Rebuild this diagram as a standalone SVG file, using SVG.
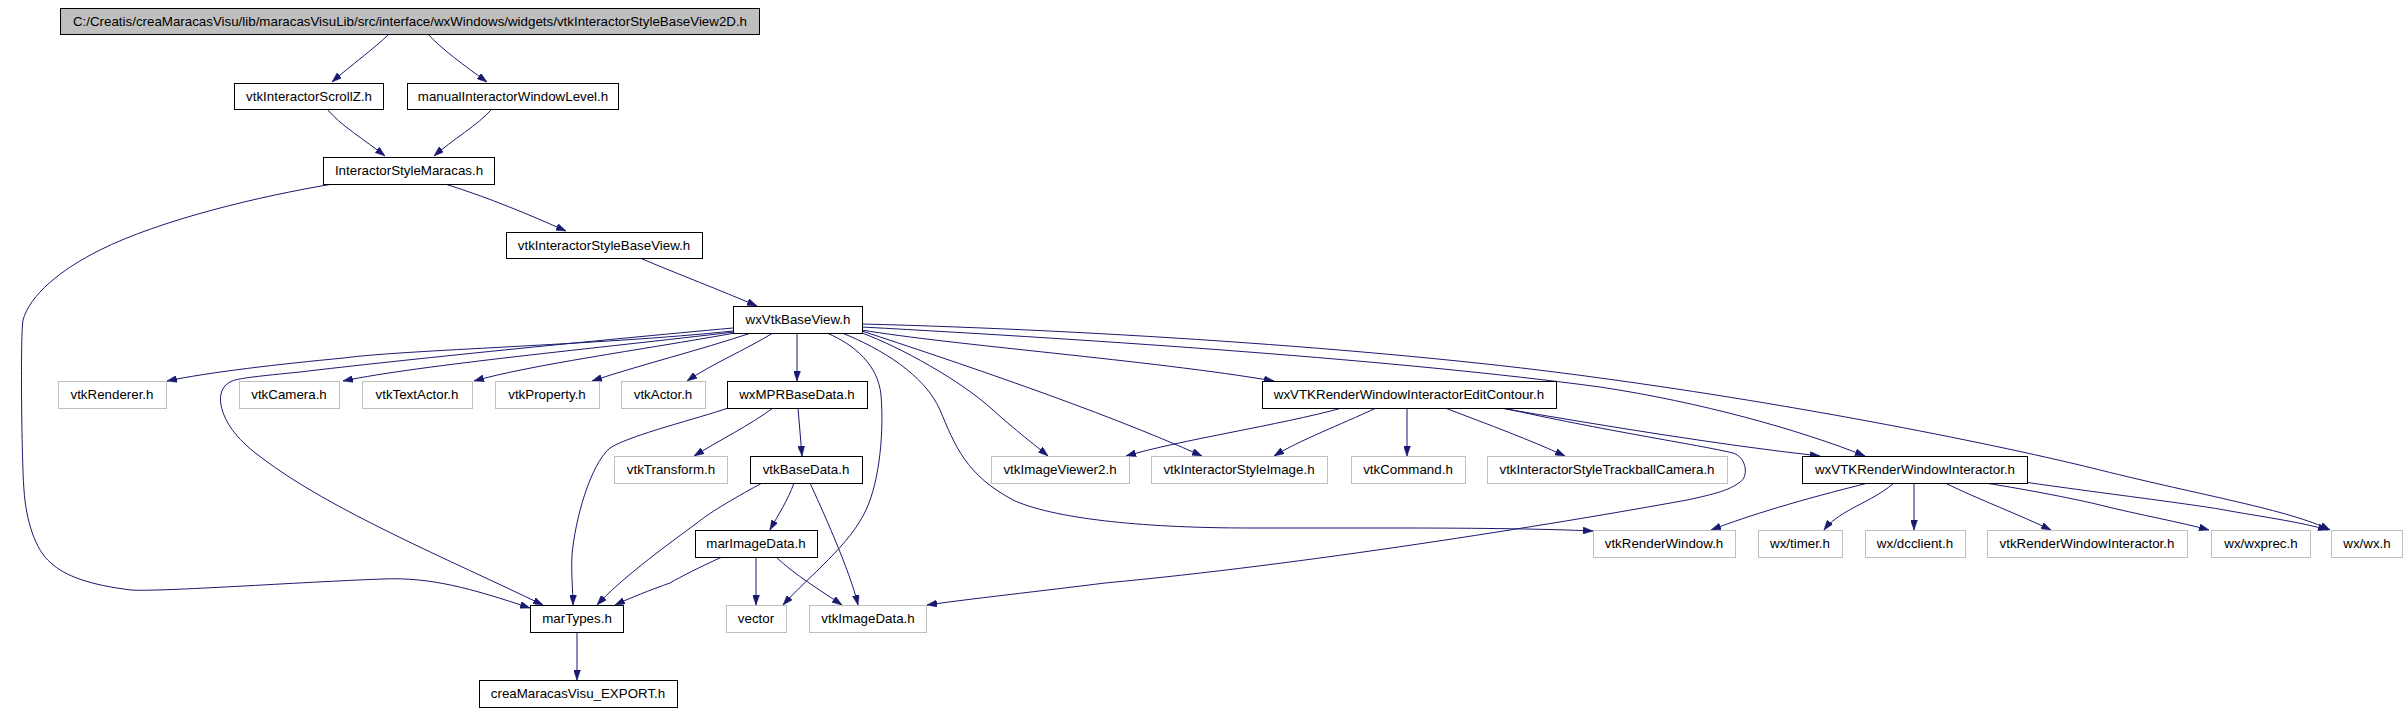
<svg xmlns="http://www.w3.org/2000/svg" width="2408" height="714" viewBox="0 0 2408 714">
<style>
.bg{fill:#ffffff}
.n rect{fill:#ffffff;stroke:#000000;stroke-width:1}
.n.gr rect{stroke:#bfbfbf}
.n.root rect{fill:#bfbfbf}
.n text{font-family:"Liberation Sans",Arial,sans-serif;font-size:13.33px;fill:#000000;text-anchor:middle}
#edges path{fill:none;stroke:#191970;stroke-width:1;marker-end:url(#ah)}
</style>
<defs>
<marker id="ah" viewBox="0 0 10 7" refX="10" refY="3.5" markerWidth="10" markerHeight="7" markerUnits="userSpaceOnUse" orient="auto">
<path d="M0,0 L10,3.5 L0,7 z" fill="#191970" stroke="#191970" stroke-width="0.5"/>
</marker>
</defs>
<rect class="bg" x="0" y="0" width="2408" height="714"/>
<g id="edges">
<path d="M389,34 C375,48 350,66 332,82"/>
<path d="M428,34 C440,48 465,66 487,82"/>
<path d="M327,109 C340,125 365,140 385,156"/>
<path d="M492,109 C478,125 452,140 434,156"/>
<path d="M445,184 C490,198 530,215 566,231"/>
<path d="M333,184 C260,196 160,220 100,250 C60,270 30,295 23,320 C20,340 22,470 24,490 C26,520 35,550 51,563 C65,576 90,585 131,590 C160,592 300,582 383,579 C430,577 470,588 530,608"/>
<path d="M640,258 C680,275 720,290 757,306"/>
<path d="M733,331 C600,345 400,350 344,358 C280,364 210,372 167,381"/>
<path d="M734,332 C600,348 420,365 343,381"/>
<path d="M735,333 C640,350 530,365 474,381"/>
<path d="M751,333 C700,350 640,365 592,381"/>
<path d="M773,333 C745,350 710,365 687,381"/>
<path d="M797,333 L797,381"/>
<path d="M733,328 C600,340 400,360 300,372 C260,376 240,378 232,381 C222,385 219,395 221,405 C225,425 240,442 262,458 C330,510 450,560 543,605"/>
<path d="M827,333 C855,345 878,365 881,395 C884,430 880,480 866,510 C850,545 810,575 783,605"/>
<path d="M862,333 C900,347 960,380 993,410 C1015,430 1035,445 1048,456"/>
<path d="M862,331 C950,360 1100,410 1202,456"/>
<path d="M842,333 C880,348 925,375 940,410 C955,445 965,475 1015,501 C1060,520 1150,528 1250,528 L1400,528 C1480,528 1550,529 1593,531"/>
<path d="M862,330 C950,345 1150,360 1274,381"/>
<path d="M862,327 C1100,340 1400,360 1600,387 C1700,402 1800,430 1865,456"/>
<path d="M862,324 C1100,330 1400,350 1600,378 C1800,405 2000,445 2100,470 C2200,495 2290,510 2330,530"/>
<path d="M773,408 C750,425 720,440 694,456"/>
<path d="M798,408 L802,456"/>
<path d="M728,408 C700,418 630,435 610,448 C590,465 575,520 572,555 C571,575 573,590 573,605"/>
<path d="M794,483 C788,500 778,515 770,530"/>
<path d="M762,483 C740,495 710,512 697,523 C660,550 620,580 597,605"/>
<path d="M810,483 C820,505 850,570 858,605"/>
<path d="M722,557 C700,567 680,577 670,583 C650,590 630,598 615,605"/>
<path d="M756,557 L756,605"/>
<path d="M776,557 C795,575 820,590 842,605"/>
<path d="M577,632 L577,680"/>
<path d="M1342,408 C1280,425 1180,440 1126,456"/>
<path d="M1376,408 C1340,425 1300,440 1274,456"/>
<path d="M1407,408 L1407,456"/>
<path d="M1445,408 C1490,425 1530,440 1565,456"/>
<path d="M1500,408 C1600,425 1720,445 1820,456"/>
<path d="M1503,408 C1600,430 1700,445 1733,453 C1748,458 1748,478 1740,482 C1730,490 1715,494 1687,500 C1550,525 1300,565 1105,583 C1050,590 960,600 927,605"/>
<path d="M1868,483 C1800,500 1750,515 1711,530"/>
<path d="M1894,483 C1880,495 1862,503 1853,508 C1840,515 1830,522 1824,530"/>
<path d="M1914,483 L1914,530"/>
<path d="M1945,483 C1980,500 2020,515 2051,530"/>
<path d="M1985,483 C2030,490 2080,500 2100,505 C2140,515 2180,522 2209,530"/>
<path d="M2024,482 C2100,493 2200,505 2230,511 C2270,518 2300,522 2328,530"/>
</g>
<g id="n0" class="n root"><rect x="60.5" y="8.5" width="699" height="26"/><text x="410" y="26">C:/Creatis/creaMaracasVisu/lib/maracasVisuLib/src/interface/wxWindows/widgets/vtkInteractorStyleBaseView2D.h</text></g>
<g id="n1" class="n"><rect x="234.5" y="83.5" width="149" height="26"/><text x="309" y="101">vtkInteractorScrollZ.h</text></g>
<g id="n2" class="n"><rect x="407.5" y="83.5" width="211" height="26"/><text x="513" y="101">manualInteractorWindowLevel.h</text></g>
<g id="n3" class="n"><rect x="323.5" y="157.5" width="171" height="27"/><text x="409" y="175">InteractorStyleMaracas.h</text></g>
<g id="n4" class="n"><rect x="506.5" y="232.5" width="196" height="26"/><text x="604" y="250">vtkInteractorStyleBaseView.h</text></g>
<g id="n5" class="n"><rect x="733.5" y="306.5" width="129" height="27"/><text x="798" y="324">wxVtkBaseView.h</text></g>
<g id="n6" class="n gr"><rect x="58.5" y="381.5" width="108" height="27"/><text x="112" y="399">vtkRenderer.h</text></g>
<g id="n7" class="n gr"><rect x="239.5" y="381.5" width="100" height="27"/><text x="289" y="399">vtkCamera.h</text></g>
<g id="n8" class="n gr"><rect x="362.5" y="381.5" width="110" height="27"/><text x="417" y="399">vtkTextActor.h</text></g>
<g id="n9" class="n gr"><rect x="495.5" y="381.5" width="104" height="27"/><text x="547" y="399">vtkProperty.h</text></g>
<g id="n10" class="n gr"><rect x="621.5" y="381.5" width="84" height="27"/><text x="663" y="399">vtkActor.h</text></g>
<g id="n11" class="n"><rect x="727.5" y="381.5" width="140" height="27"/><text x="797" y="399">wxMPRBaseData.h</text></g>
<g id="n12" class="n"><rect x="1262.5" y="381.5" width="294" height="27"/><text x="1409" y="399">wxVTKRenderWindowInteractorEditContour.h</text></g>
<g id="n13" class="n gr"><rect x="614.5" y="456.5" width="113" height="27"/><text x="671" y="474">vtkTransform.h</text></g>
<g id="n14" class="n"><rect x="750.5" y="456.5" width="112" height="27"/><text x="806" y="474">vtkBaseData.h</text></g>
<g id="n15" class="n gr"><rect x="991.5" y="456.5" width="138" height="27"/><text x="1060" y="474">vtkImageViewer2.h</text></g>
<g id="n16" class="n gr"><rect x="1151.5" y="456.5" width="176" height="27"/><text x="1239" y="474">vtkInteractorStyleImage.h</text></g>
<g id="n17" class="n gr"><rect x="1351.5" y="456.5" width="114" height="27"/><text x="1408" y="474">vtkCommand.h</text></g>
<g id="n18" class="n gr"><rect x="1487.5" y="456.5" width="240" height="27"/><text x="1607" y="474">vtkInteractorStyleTrackballCamera.h</text></g>
<g id="n19" class="n"><rect x="1802.5" y="456.5" width="225" height="27"/><text x="1915" y="474">wxVTKRenderWindowInteractor.h</text></g>
<g id="n20" class="n"><rect x="695.5" y="530.5" width="122" height="27"/><text x="756" y="548">marImageData.h</text></g>
<g id="n21" class="n gr"><rect x="1593.5" y="530.5" width="142" height="27"/><text x="1664" y="548">vtkRenderWindow.h</text></g>
<g id="n22" class="n gr"><rect x="1758.5" y="530.5" width="84" height="27"/><text x="1800" y="548">wx/timer.h</text></g>
<g id="n23" class="n gr"><rect x="1865.5" y="530.5" width="100" height="27"/><text x="1915" y="548">wx/dcclient.h</text></g>
<g id="n24" class="n gr"><rect x="1987.5" y="530.5" width="200" height="27"/><text x="2087" y="548">vtkRenderWindowInteractor.h</text></g>
<g id="n25" class="n gr"><rect x="2211.5" y="530.5" width="99" height="27"/><text x="2261" y="548">wx/wxprec.h</text></g>
<g id="n26" class="n gr"><rect x="2331.5" y="530.5" width="71" height="27"/><text x="2367" y="548">wx/wx.h</text></g>
<g id="n27" class="n"><rect x="530.5" y="605.5" width="93" height="27"/><text x="577" y="623">marTypes.h</text></g>
<g id="n28" class="n gr"><rect x="726.5" y="605.5" width="60" height="27"/><text x="756" y="623">vector</text></g>
<g id="n29" class="n gr"><rect x="809.5" y="605.5" width="117" height="27"/><text x="868" y="623">vtkImageData.h</text></g>
<g id="n30" class="n"><rect x="479.5" y="680.5" width="198" height="27"/><text x="578" y="698">creaMaracasVisu_EXPORT.h</text></g>
</svg>
